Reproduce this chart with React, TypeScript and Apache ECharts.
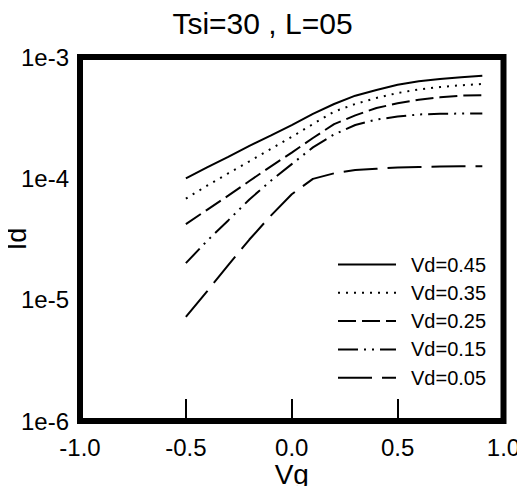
import React, { useEffect, useRef } from "react";
import * as echarts from "echarts";

const vg = [-0.5, -0.4, -0.3, -0.2, -0.1, 0.0, 0.1, 0.2, 0.3, 0.4, 0.5, 0.6, 0.7, 0.8, 0.9];

const id045 = [1.0e-4, 1.23e-4, 1.5e-4, 1.85e-4, 2.25e-4, 2.75e-4, 3.4e-4, 4.1e-4, 4.8e-4, 5.35e-4, 5.9e-4, 6.3e-4, 6.6e-4, 6.8e-4, 7.0e-4];
const id035 = [6.8e-5, 8.7e-5, 1.1e-4, 1.38e-4, 1.74e-4, 2.2e-4, 2.8e-4, 3.55e-4, 4.1e-4, 4.6e-4, 5.05e-4, 5.4e-4, 5.65e-4, 5.85e-4, 6.0e-4];
const id025 = [4.2e-5, 5.5e-5, 7.2e-5, 9.5e-5, 1.25e-4, 1.63e-4, 2.15e-4, 2.8e-4, 3.3e-4, 3.8e-4, 4.15e-4, 4.45e-4, 4.65e-4, 4.8e-4, 4.85e-4];
const id015 = [2.0e-5, 3.05e-5, 4.5e-5, 6.7e-5, 9.5e-5, 1.31e-4, 1.8e-4, 2.3e-4, 2.75e-4, 3.05e-4, 3.23e-4, 3.36e-4, 3.4e-4, 3.42e-4, 3.43e-4];
const id005 = [7.2e-6, 1.17e-5, 1.93e-5, 3.13e-5, 4.9e-5, 7.4e-5, 9.9e-5, 1.1e-4, 1.17e-4, 1.2e-4, 1.23e-4, 1.24e-4, 1.25e-4, 1.26e-4, 1.26e-4];

const seriesNames = ["Vd=0.45", "Vd=0.35", "Vd=0.25", "Vd=0.15", "Vd=0.05"];
const seriesValues = [id045, id035, id025, id015, id005];
const dashTypes: any[] = ["solid", [2, 6], [18, 6], [20, 6, 2, 6, 2, 6], [34, 10]];

const xTicks = [-1.0, -0.5, 0.0, 0.5, 1.0];
const yTickLabels: Record<string, string> = { "-6": "1e-6", "-5": "1e-5", "-4": "1e-4", "-3": "1e-3" };

const FONT = "'Liberation Sans', Arial, Helvetica, sans-serif";

export default function App() {
  const ref = useRef<HTMLDivElement>(null);
  useEffect(() => {
    if (!ref.current) return;
    const chart = echarts.init(ref.current, null, { renderer: "svg" });
    const option: any = {
      animation: false,
      backgroundColor: "#ffffff",
      title: {
        text: "Tsi=30 , L=05",
        left: "center",
        top: 3,
        textStyle: { fontFamily: FONT, fontSize: 30, fontWeight: "normal", color: "#000" },
      },
      grid: {
        left: 80,
        right: 21.5,
        top: 57,
        bottom: 73,
        containLabel: false,
        outerBoundsMode: "none",
        show: true,
        borderWidth: 6,
        borderColor: "#000",
        backgroundColor: "transparent",
      },
      legend: {
        orient: "vertical",
        left: 332,
        top: 249.5,
        itemWidth: 58,
        itemHeight: 14,
        itemGap: 8.3,
        data: seriesNames,
        itemStyle: { opacity: 0, borderWidth: 0 },
        textStyle: { fontFamily: FONT, fontSize: 20, color: "#000", padding: [0, 0, 0, 10] },
      },
      xAxis: {
        type: "value",
        min: -1,
        max: 1,
        interval: 0.5,
        name: "Vg",
        nameLocation: "middle",
        nameGap: 39,
        nameMoveOverlap: false,
        nameTextStyle: { fontFamily: FONT, fontSize: 28, color: "#000" },
        axisLine: { show: false },
        axisTick: {
          show: true,
          inside: true,
          length: 22,
          lineStyle: { color: "#000", width: 2 },
          customValues: [-0.5, 0, 0.5],
        },
        axisLabel: {
          fontFamily: FONT,
          fontSize: 24,
          color: "#000",
          margin: 14,
          customValues: xTicks,
          formatter: (v: number) => v.toFixed(1),
        },
        splitLine: { show: false },
      },
      yAxis: {
        type: "log",
        logBase: 10,
        min: 1e-6,
        max: 1e-3,
        name: "Id",
        nameLocation: "middle",
        nameGap: 50,
        nameMoveOverlap: false,
        nameTextStyle: { fontFamily: FONT, fontSize: 27, color: "#000" },
        axisLine: { show: false },
        axisTick: { show: false },
        axisLabel: {
          fontFamily: FONT,
          fontSize: 24,
          color: "#000",
          margin: 11,
          formatter: (v: number) => {
            const e = Math.round(Math.log10(v));
            return yTickLabels[String(e)] ?? "";
          },
        },
        splitLine: { show: false },
      },
      series: seriesNames.map((name, i) => ({
        name,
        type: "line",
        symbol: "none",
        showSymbol: false,
        data: vg.map((x, j) => [x, seriesValues[i][j]]),
        lineStyle: { color: "#000", width: 2, type: dashTypes[i] },
        itemStyle: { color: "#000" },
      })),
    };
    chart.setOption(option);
    return () => chart.dispose();
  }, []);
  return <div ref={ref} style={{ width: 525, height: 494, margin: -8 }} />;
}
